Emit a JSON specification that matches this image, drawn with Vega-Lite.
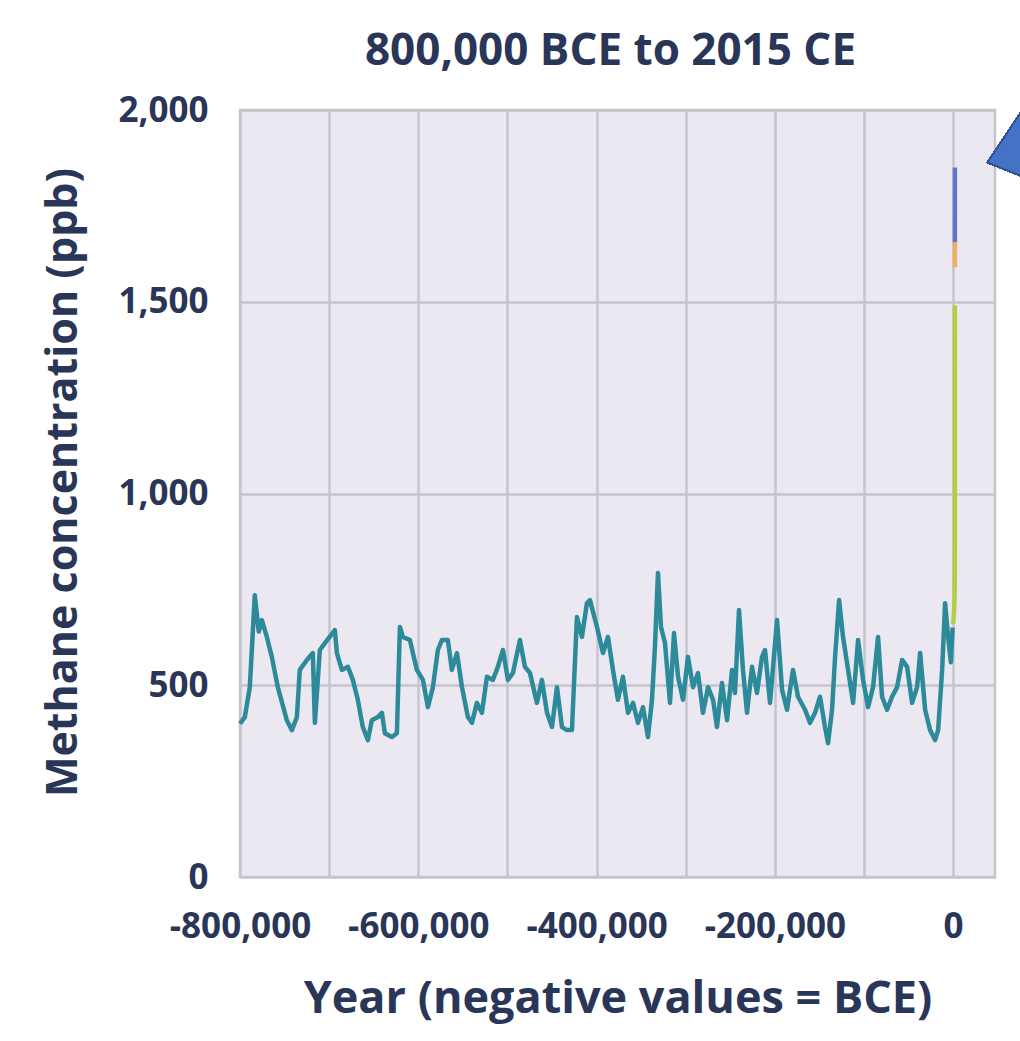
{
  "$schema": "https://vega.github.io/schema/vega-lite/v6.json",
  "width": 755,
  "height": 767,
  "autosize": {"type": "none"},
  "padding": {"left": 240, "top": 110, "right": 25, "bottom": 164},
  "background": "#ffffff",
  "config": {
    "font": "Open Sans",
    "view": {"fill": "#ebe8f2", "stroke": "#c6c4cb", "strokeWidth": 2.5},
    "axis": {
      "domain": false,
      "ticks": false,
      "grid": true,
      "gridColor": "#c6c4cb",
      "gridWidth": 2.5,
      "labelFont": "Open Sans",
      "labelFontWeight": "bold",
      "labelFontSize": 35,
      "labelColor": "#2a3658",
      "titleFont": "Open Sans",
      "titleFontWeight": "bold",
      "titleFontSize": 43,
      "titleColor": "#2a3658"
    }
  },
  "title": {
    "text": "800,000 BCE to 2015 CE",
    "font": "Open Sans",
    "fontWeight": "bold",
    "fontSize": 44,
    "color": "#2a3658",
    "anchor": "middle",
    "offset": -12,
    "dx": -7
  },
  "data": {
    "values": [
      {"year": -800000, "ppb": 400, "series": "ice"},
      {"year": -794600, "ppb": 417, "series": "ice"},
      {"year": -789000, "ppb": 495, "series": "ice"},
      {"year": -783400, "ppb": 735, "series": "ice"},
      {"year": -779000, "ppb": 640, "series": "ice"},
      {"year": -775500, "ppb": 670, "series": "ice"},
      {"year": -769900, "ppb": 626, "series": "ice"},
      {"year": -764300, "ppb": 574, "series": "ice"},
      {"year": -757600, "ppb": 495, "series": "ice"},
      {"year": -747500, "ppb": 409, "series": "ice"},
      {"year": -741800, "ppb": 383, "series": "ice"},
      {"year": -736200, "ppb": 417, "series": "ice"},
      {"year": -732900, "ppb": 540, "series": "ice"},
      {"year": -725000, "ppb": 566, "series": "ice"},
      {"year": -718300, "ppb": 584, "series": "ice"},
      {"year": -716000, "ppb": 402, "series": "ice"},
      {"year": -710400, "ppb": 592, "series": "ice"},
      {"year": -704800, "ppb": 610, "series": "ice"},
      {"year": -693600, "ppb": 644, "series": "ice"},
      {"year": -691300, "ppb": 584, "series": "ice"},
      {"year": -685700, "ppb": 540, "series": "ice"},
      {"year": -679000, "ppb": 548, "series": "ice"},
      {"year": -673400, "ppb": 514, "series": "ice"},
      {"year": -667800, "ppb": 462, "series": "ice"},
      {"year": -662200, "ppb": 391, "series": "ice"},
      {"year": -656500, "ppb": 357, "series": "ice"},
      {"year": -652100, "ppb": 409, "series": "ice"},
      {"year": -645300, "ppb": 417, "series": "ice"},
      {"year": -640800, "ppb": 428, "series": "ice"},
      {"year": -637500, "ppb": 375, "series": "ice"},
      {"year": -629600, "ppb": 365, "series": "ice"},
      {"year": -624000, "ppb": 375, "series": "ice"},
      {"year": -620600, "ppb": 652, "series": "ice"},
      {"year": -617300, "ppb": 626, "series": "ice"},
      {"year": -609400, "ppb": 618, "series": "ice"},
      {"year": -601600, "ppb": 540, "series": "ice"},
      {"year": -594800, "ppb": 514, "series": "ice"},
      {"year": -589200, "ppb": 443, "series": "ice"},
      {"year": -583600, "ppb": 495, "series": "ice"},
      {"year": -578000, "ppb": 592, "series": "ice"},
      {"year": -573500, "ppb": 618, "series": "ice"},
      {"year": -566800, "ppb": 618, "series": "ice"},
      {"year": -562300, "ppb": 540, "series": "ice"},
      {"year": -556600, "ppb": 584, "series": "ice"},
      {"year": -551000, "ppb": 495, "series": "ice"},
      {"year": -544300, "ppb": 417, "series": "ice"},
      {"year": -539800, "ppb": 402, "series": "ice"},
      {"year": -534200, "ppb": 454, "series": "ice"},
      {"year": -528600, "ppb": 428, "series": "ice"},
      {"year": -523000, "ppb": 522, "series": "ice"},
      {"year": -516300, "ppb": 514, "series": "ice"},
      {"year": -510700, "ppb": 548, "series": "ice"},
      {"year": -505000, "ppb": 592, "series": "ice"},
      {"year": -499400, "ppb": 514, "series": "ice"},
      {"year": -493800, "ppb": 532, "series": "ice"},
      {"year": -486000, "ppb": 618, "series": "ice"},
      {"year": -480300, "ppb": 548, "series": "ice"},
      {"year": -474700, "ppb": 532, "series": "ice"},
      {"year": -466900, "ppb": 454, "series": "ice"},
      {"year": -461300, "ppb": 514, "series": "ice"},
      {"year": -455600, "ppb": 428, "series": "ice"},
      {"year": -450000, "ppb": 391, "series": "ice"},
      {"year": -444400, "ppb": 495, "series": "ice"},
      {"year": -438800, "ppb": 391, "series": "ice"},
      {"year": -433200, "ppb": 383, "series": "ice"},
      {"year": -427600, "ppb": 383, "series": "ice"},
      {"year": -422000, "ppb": 678, "series": "ice"},
      {"year": -416400, "ppb": 626, "series": "ice"},
      {"year": -410800, "ppb": 714, "series": "ice"},
      {"year": -407400, "ppb": 722, "series": "ice"},
      {"year": -399500, "ppb": 652, "series": "ice"},
      {"year": -392800, "ppb": 584, "series": "ice"},
      {"year": -387200, "ppb": 626, "series": "ice"},
      {"year": -381600, "ppb": 540, "series": "ice"},
      {"year": -376000, "ppb": 462, "series": "ice"},
      {"year": -370400, "ppb": 522, "series": "ice"},
      {"year": -364700, "ppb": 428, "series": "ice"},
      {"year": -359100, "ppb": 454, "series": "ice"},
      {"year": -353500, "ppb": 402, "series": "ice"},
      {"year": -347900, "ppb": 443, "series": "ice"},
      {"year": -342300, "ppb": 365, "series": "ice"},
      {"year": -337800, "ppb": 462, "series": "ice"},
      {"year": -334500, "ppb": 600, "series": "ice"},
      {"year": -331100, "ppb": 793, "series": "ice"},
      {"year": -327700, "ppb": 652, "series": "ice"},
      {"year": -323200, "ppb": 610, "series": "ice"},
      {"year": -317600, "ppb": 454, "series": "ice"},
      {"year": -313100, "ppb": 636, "series": "ice"},
      {"year": -308600, "ppb": 522, "series": "ice"},
      {"year": -303000, "ppb": 462, "series": "ice"},
      {"year": -297400, "ppb": 574, "series": "ice"},
      {"year": -291800, "ppb": 495, "series": "ice"},
      {"year": -286200, "ppb": 532, "series": "ice"},
      {"year": -280600, "ppb": 428, "series": "ice"},
      {"year": -274900, "ppb": 495, "series": "ice"},
      {"year": -269300, "ppb": 462, "series": "ice"},
      {"year": -264900, "ppb": 391, "series": "ice"},
      {"year": -259300, "ppb": 506, "series": "ice"},
      {"year": -253600, "ppb": 409, "series": "ice"},
      {"year": -248000, "ppb": 540, "series": "ice"},
      {"year": -244700, "ppb": 480, "series": "ice"},
      {"year": -240200, "ppb": 696, "series": "ice"},
      {"year": -235700, "ppb": 540, "series": "ice"},
      {"year": -231200, "ppb": 428, "series": "ice"},
      {"year": -225600, "ppb": 548, "series": "ice"},
      {"year": -220000, "ppb": 480, "series": "ice"},
      {"year": -214400, "ppb": 574, "series": "ice"},
      {"year": -211000, "ppb": 592, "series": "ice"},
      {"year": -205400, "ppb": 454, "series": "ice"},
      {"year": -197500, "ppb": 670, "series": "ice"},
      {"year": -191900, "ppb": 488, "series": "ice"},
      {"year": -186300, "ppb": 436, "series": "ice"},
      {"year": -179600, "ppb": 540, "series": "ice"},
      {"year": -174000, "ppb": 470, "series": "ice"},
      {"year": -166100, "ppb": 436, "series": "ice"},
      {"year": -160500, "ppb": 402, "series": "ice"},
      {"year": -154900, "ppb": 428, "series": "ice"},
      {"year": -149300, "ppb": 470, "series": "ice"},
      {"year": -143700, "ppb": 391, "series": "ice"},
      {"year": -140300, "ppb": 349, "series": "ice"},
      {"year": -135800, "ppb": 436, "series": "ice"},
      {"year": -132400, "ppb": 574, "series": "ice"},
      {"year": -127900, "ppb": 722, "series": "ice"},
      {"year": -123500, "ppb": 626, "series": "ice"},
      {"year": -117800, "ppb": 540, "series": "ice"},
      {"year": -112200, "ppb": 454, "series": "ice"},
      {"year": -106600, "ppb": 618, "series": "ice"},
      {"year": -101000, "ppb": 514, "series": "ice"},
      {"year": -95400, "ppb": 443, "series": "ice"},
      {"year": -89800, "ppb": 495, "series": "ice"},
      {"year": -84200, "ppb": 626, "series": "ice"},
      {"year": -79700, "ppb": 470, "series": "ice"},
      {"year": -74100, "ppb": 436, "series": "ice"},
      {"year": -68500, "ppb": 470, "series": "ice"},
      {"year": -62800, "ppb": 495, "series": "ice"},
      {"year": -57200, "ppb": 566, "series": "ice"},
      {"year": -51600, "ppb": 548, "series": "ice"},
      {"year": -46000, "ppb": 454, "series": "ice"},
      {"year": -40400, "ppb": 495, "series": "ice"},
      {"year": -37000, "ppb": 584, "series": "ice"},
      {"year": -31400, "ppb": 436, "series": "ice"},
      {"year": -25800, "ppb": 383, "series": "ice"},
      {"year": -20200, "ppb": 357, "series": "ice"},
      {"year": -16800, "ppb": 383, "series": "ice"},
      {"year": -12300, "ppb": 540, "series": "ice"},
      {"year": -9000, "ppb": 714, "series": "ice"},
      {"year": -5600, "ppb": 626, "series": "ice"},
      {"year": -2500, "ppb": 560, "series": "ice"},
      {"year": -500, "ppb": 650, "series": "ice"},
      {"year": 0, "ppb": 660, "series": "law"},
      {"year": 1000, "ppb": 690, "series": "law"},
      {"year": 1700, "ppb": 730, "series": "law"},
      {"year": 1850, "ppb": 800, "series": "law"},
      {"year": 1900, "ppb": 900, "series": "law"},
      {"year": 1950, "ppb": 1150, "series": "law"},
      {"year": 1980, "ppb": 1490, "series": "law"},
      {"year": 1984, "ppb": 1590, "series": "grim"},
      {"year": 1990, "ppb": 1655, "series": "grim"},
      {"year": 1995, "ppb": 1655, "series": "loa"},
      {"year": 2005, "ppb": 1760, "series": "loa"},
      {"year": 2015, "ppb": 1850, "series": "loa"}
    ]
  },
  "layer": [
    {
      "mark": {"type": "line", "strokeJoin": "round", "strokeWidth": 4.5},
      "encoding": {
        "x": {
          "field": "year",
          "type": "quantitative",
          "scale": {"domain": [-800000, 47000], "nice": false, "zero": false},
          "axis": {
            "values": [-800000, -700000, -600000, -500000, -400000, -300000, -200000, -100000, 0],
            "labelExpr": "datum.value % 200000 == 0 ? replace(format(datum.value, ',d'), '\u2212', '-') : ''",
            "labelPadding": 32,
            "labelFlush": false,
            "title": "Year (negative values = BCE)",
            "titleFontSize": 45,
            "titlePadding": 32
          }
        },
        "y": {
          "field": "ppb",
          "type": "quantitative",
          "scale": {"domain": [0, 2000], "nice": false},
          "axis": {
            "values": [0, 500, 1000, 1500, 2000],
            "format": ",d",
            "labelPadding": 32,
            "labelFlush": false,
            "title": "Methane concentration (ppb)",
            "titlePadding": 32,
            "titleY": 372
          }
        },
        "color": {
          "field": "series",
          "type": "nominal",
          "scale": {"domain": ["ice", "law", "grim", "loa"], "range": ["#2d8a9a", "#b3cd46", "#f0b060", "#6474c6"]},
          "legend": null
        },
        "detail": {"field": "series"}
      }
    },
    {
      "mark": {"type": "point", "filled": true, "shape": "M -0.5 0.5 L 0.5 -1 L 0.5 0.9 Z", "size": 16900, "fill": "#4472c4", "stroke": "#2f528f", "strokeWidth": 1.5, "opacity": 1, "clip": false},
      "encoding": {
        "x": {"datum": 75200, "type": "quantitative"},
        "y": {"datum": 1948, "type": "quantitative"}
      }
    }
  ]
}
